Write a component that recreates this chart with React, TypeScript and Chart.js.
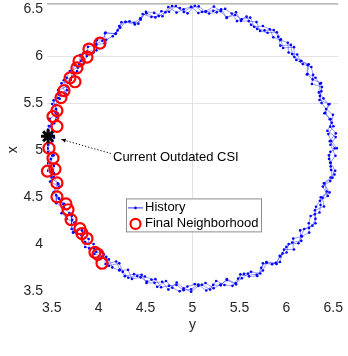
import React, { useEffect, useRef } from "react";
import { Chart, registerables } from "chart.js";

Chart.register(...registerables);

// History trace: horizontal-axis ("y") values, three laps around the circle
const histY = [6.515, 6.463, 6.527, 6.467, 6.472, 6.405, 6.45, 6.395, 6.346, 6.357,
  6.31, 6.226, 6.239, 6.151, 6.115, 6.024, 6.015, 5.935, 5.861, 5.824,
  5.75, 5.657, 5.615, 5.523, 5.455, 5.365, 5.305, 5.221, 5.141, 5.066,
  4.985, 4.908, 4.823, 4.75, 4.669, 4.605, 4.509, 4.444, 4.379, 4.286,
  4.22, 4.179, 4.074, 4.041, 3.968, 3.946, 3.841, 3.812, 3.78, 3.693,
  3.66, 3.666, 3.569, 3.585, 3.539, 3.565, 3.479, 3.494, 3.503, 3.447,
  3.455, 3.507, 3.452, 3.503, 3.498, 3.565, 3.52, 3.575, 3.624, 3.613,
  3.66, 3.744, 3.731, 3.819, 3.856, 3.946, 3.955, 4.035, 4.109, 4.146,
  4.22, 4.313, 4.355, 4.447, 4.515, 4.605, 4.665, 4.749, 4.829, 4.905,
  4.985, 5.062, 5.147, 5.22, 5.301, 5.365, 5.461, 5.526, 5.591, 5.684,
  5.75, 5.791, 5.896, 5.929, 6.002, 6.024, 6.129, 6.158, 6.19, 6.277,
  6.31, 6.304, 6.401, 6.385, 6.431, 6.405, 6.491, 6.476, 6.467, 6.523,
  6.469, 6.525, 6.437, 6.484, 6.496, 6.423, 6.375, 6.357, 6.379, 6.272,
  6.285, 6.266, 6.175, 6.106, 6.062, 6.048, 5.936, 5.913, 5.865, 5.768,
  5.689, 5.624, 5.576, 5.474, 5.418, 5.348, 5.258, 5.177, 5.101, 5.025,
  4.947, 4.865, 4.782, 4.712, 4.641, 4.563, 4.469, 4.424, 4.329, 4.243,
  4.202, 4.15, 4.081, 3.982, 3.977, 3.879, 3.803, 3.795, 3.77, 3.719,
  3.628, 3.663, 3.577, 3.52, 3.547, 3.551, 3.525, 3.454, 3.525, 3.461,
  3.458, 3.49, 3.523, 3.525, 3.483, 3.581, 3.548, 3.549, 3.632, 3.689,
  3.719, 3.712, 3.823, 3.826, 3.857, 3.953, 4.027, 4.081, 4.11, 4.22,
  4.258, 4.316, 4.411, 4.493, 4.563, 4.624, 4.718, 4.786, 4.863, 4.946,
  5.024, 5.101, 5.187, 5.252, 5.341, 5.426, 5.486, 5.549, 5.624, 5.722,
  5.75, 5.848, 5.931, 5.959, 6.0, 6.062, 6.159, 6.147, 6.241, 6.31,
  6.303, 6.316, 6.357, 6.441, 6.389, 6.467, 6.513, 6.472, 6.455, 6.469,
  6.54, 6.478, 6.447, 6.502, 6.462, 6.415, 6.46, 6.353, 6.373, 6.37,
  6.28, 6.218, 6.227, 6.159, 6.085, 6.081, 5.965, 5.941, 5.899, 5.799,
  5.72, 5.682, 5.599, 5.516, 5.464, 5.364, 5.301, 5.228, 5.142, 5.062,
  4.985, 4.906, 4.83, 4.742, 4.68, 4.592, 4.504, 4.449, 4.387, 4.288,
  4.23, 4.185, 4.068, 4.063, 3.975, 3.886, 3.874, 3.843, 3.744, 3.718,
  3.703, 3.604, 3.647, 3.566, 3.506, 3.541, 3.547, 3.469, 3.483, 3.507,
  3.452, 3.522, 3.482, 3.452, 3.522, 3.572, 3.525, 3.58, 3.633, 3.604,
  3.716, 3.71, 3.727, 3.823, 3.893, 3.9, 3.975, 4.054, 4.074, 4.187,
  4.225, 4.279, 4.377, 4.458, 4.51, 4.595, 4.677, 4.743, 4.832, 4.906,
  4.985, 5.063, 5.139, 5.225, 5.299, 5.368, 5.464, 5.51, 5.603, 5.691,
  5.732, 5.786, 5.887, 5.935, 5.975, 6.081, 6.073, 6.166, 6.243, 6.239,
  6.258, 6.353, 6.364, 6.366, 6.46, 6.4, 6.471, 6.52, 6.472, 6.453];
// History trace: vertical-axis ("x") values
const histX = [5.02, 5.096, 5.179, 5.25, 5.33, 5.393, 5.487, 5.55, 5.614, 5.706,
  5.77, 5.81, 5.914, 5.945, 6.017, 6.038, 6.142, 6.17, 6.201, 6.286,
  6.319, 6.312, 6.409, 6.392, 6.437, 6.411, 6.497, 6.482, 6.472, 6.528,
  6.52, 6.468, 6.532, 6.472, 6.477, 6.411, 6.456, 6.402, 6.354, 6.365,
  6.319, 6.236, 6.25, 6.162, 6.127, 6.038, 6.03, 5.951, 5.878, 5.842,
  5.77, 5.678, 5.638, 5.547, 5.48, 5.393, 5.334, 5.252, 5.173, 5.099,
  5.02, 4.944, 4.861, 4.79, 4.71, 4.647, 4.553, 4.49, 4.426, 4.335,
  4.27, 4.23, 4.127, 4.095, 4.023, 4.002, 3.898, 3.87, 3.839, 3.754,
  3.721, 3.728, 3.632, 3.648, 3.603, 3.629, 3.543, 3.558, 3.568, 3.512,
  3.52, 3.572, 3.508, 3.568, 3.563, 3.629, 3.584, 3.638, 3.686, 3.675,
  3.721, 3.804, 3.79, 3.878, 3.913, 4.002, 4.01, 4.089, 4.162, 4.198,
  4.27, 4.362, 4.402, 4.493, 4.56, 4.647, 4.706, 4.789, 4.867, 4.941,
  5.058, 5.139, 5.207, 5.292, 5.376, 5.437, 5.502, 5.577, 5.672, 5.704,
  5.801, 5.883, 5.915, 5.958, 6.021, 6.119, 6.111, 6.206, 6.276, 6.273,
  6.289, 6.333, 6.419, 6.372, 6.453, 6.502, 6.465, 6.452, 6.47, 6.534,
  6.454, 6.51, 6.531, 6.465, 6.425, 6.415, 6.448, 6.345, 6.369, 6.36,
  6.273, 6.211, 6.174, 6.172, 6.061, 6.049, 6.01, 5.915, 5.838, 5.78,
  5.743, 5.638, 5.592, 5.529, 5.437, 5.357, 5.285, 5.218, 5.133, 5.059,
  4.98, 4.905, 4.831, 4.755, 4.666, 4.613, 4.521, 4.437, 4.387, 4.331,
  4.26, 4.162, 4.147, 4.049, 3.971, 3.954, 3.922, 3.866, 3.772, 3.797,
  3.707, 3.644, 3.662, 3.658, 3.625, 3.547, 3.61, 3.538, 3.5, 3.551,
  3.576, 3.57, 3.518, 3.61, 3.567, 3.558, 3.635, 3.685, 3.707, 3.689,
  3.797, 3.788, 3.811, 3.903, 3.972, 4.019, 4.036, 4.147, 4.174, 4.223,
  4.319, 4.398, 4.463, 4.514, 4.613, 4.671, 4.742, 4.828, 4.907, 4.982,
  5.02, 5.097, 5.171, 5.255, 5.328, 5.396, 5.49, 5.534, 5.626, 5.713,
  5.752, 5.805, 5.905, 5.951, 5.99, 6.095, 6.086, 6.178, 6.254, 6.248,
  6.267, 6.361, 6.372, 6.373, 6.466, 6.406, 6.477, 6.526, 6.477, 6.458,
  6.525, 6.498, 6.462, 6.521, 6.423, 6.459, 6.47, 6.388, 6.336, 6.361,
  6.302, 6.24, 6.243, 6.135, 6.12, 6.098, 6.0, 5.926, 5.904, 5.826,
  5.745, 5.71, 5.603, 5.554, 5.491, 5.399, 5.319, 5.256, 5.175, 5.096,
  5.02, 4.945, 4.864, 4.781, 4.715, 4.64, 4.555, 4.482, 4.43, 4.33,
  4.303, 4.208, 4.124, 4.098, 4.056, 3.956, 3.92, 3.893, 3.79, 3.817,
  3.73, 3.661, 3.682, 3.676, 3.589, 3.59, 3.602, 3.518, 3.593, 3.532,
  3.495, 3.557, 3.588, 3.533, 3.573, 3.619, 3.574, 3.68, 3.659, 3.662,
  3.751, 3.812, 3.802, 3.87, 3.943, 3.945, 4.06, 4.083, 4.124, 4.223,
  4.3, 4.337, 4.418, 4.5, 4.551, 4.648, 4.71, 4.782, 4.866, 4.945];

// Final neighborhood points
const nbY = [4.014, 3.897, 3.876, 3.791, 3.769, 3.695, 3.748, 3.631, 3.599, 3.556,
  3.514, 3.556, 3.471, 3.514, 3.455, 3.535, 3.556, 3.556, 3.652, 3.674,
  3.706, 3.801, 3.823, 3.876, 3.961, 3.993, 4.036];
const nbX = [6.138, 6.075, 5.99, 5.948, 5.875, 5.769, 5.727, 5.632, 5.558, 5.421,
  5.358, 5.253, 5.021, 4.915, 4.778, 4.799, 4.652, 4.504, 4.43, 4.367,
  4.262, 4.167, 4.114, 4.061, 3.914, 3.893, 3.798];

// Current outdated CSI
const csiY = [3.461];
const csiX = [5.147];

const tickValues = [3.5, 4, 4.5, 5, 5.5, 6, 6.5];
const legendLabels = ["History", "Final Neighborhood"];
const annotationText = "Current Outdated CSI";
const xTitle = "y";
const yTitle = "x";

const FONT = "'Liberation Sans', Arial, sans-serif";

const overlayPlugin = {
  id: "overlay",
  afterDraw(chart: any) {
    const { ctx, chartArea, scales } = chart;
    const sx = scales.x;
    const sy = scales.y;
    ctx.save();
    // top border
    ctx.strokeStyle = "#8c8c8c";
    ctx.lineWidth = 1;
    ctx.beginPath();
    ctx.moveTo(chartArea.left, chartArea.top + 0.5);
    ctx.lineTo(chartArea.right, chartArea.top + 0.5);
    ctx.stroke();

    // annotation arrow
    const tipX = sx.getPixelForValue(3.6);
    const tipY = sy.getPixelForValue(5.115);
    const tailX = sx.getPixelForValue(4.13);
    const tailY = sy.getPixelForValue(4.965);
    ctx.strokeStyle = "#000";
    ctx.lineWidth = 1;
    ctx.setLineDash([1.2, 2]);
    ctx.beginPath();
    ctx.moveTo(tailX, tailY);
    ctx.lineTo(tipX, tipY);
    ctx.stroke();
    ctx.setLineDash([]);
    const ang = Math.atan2(tipY - tailY, tipX - tailX);
    const al = 5;
    ctx.fillStyle = "#000";
    ctx.beginPath();
    ctx.moveTo(tipX, tipY);
    ctx.lineTo(tipX - al * Math.cos(ang - 0.4), tipY - al * Math.sin(ang - 0.4));
    ctx.lineTo(tipX - al * Math.cos(ang + 0.4), tipY - al * Math.sin(ang + 0.4));
    ctx.closePath();
    ctx.fill();
    ctx.font = `13px ${FONT}`;
    ctx.textBaseline = "middle";
    ctx.textAlign = "left";
    ctx.fillText(annotationText, sx.getPixelForValue(4.153), sy.getPixelForValue(4.926));

    // legend box
    const bx = chartArea.left + 79;
    const by = chartArea.top + 195;
    const bw = 135;
    const bh = 33;
    ctx.fillStyle = "#fff";
    ctx.fillRect(bx, by, bw, bh);
    ctx.strokeStyle = "#8c8c8c";
    ctx.lineWidth = 1;
    ctx.strokeRect(bx + 0.5, by + 0.5, bw, bh);
    // history entry
    ctx.strokeStyle = "#0000ff";
    ctx.lineWidth = 0.8;
    ctx.beginPath();
    ctx.moveTo(bx + 2, by + 9.5);
    ctx.lineTo(bx + 17, by + 9.5);
    ctx.stroke();
    ctx.fillStyle = "#0000ff";
    ctx.beginPath();
    ctx.arc(bx + 9.5, by + 9.5, 1.3, 0, Math.PI * 2);
    ctx.fill();
    // neighborhood entry
    ctx.strokeStyle = "#ff0000";
    ctx.lineWidth = 2.2;
    ctx.beginPath();
    ctx.arc(bx + 9.5, by + 25.5, 5, 0, Math.PI * 2);
    ctx.stroke();
    ctx.fillStyle = "#000";
    ctx.font = `13px ${FONT}`;
    ctx.textAlign = "left";
    ctx.textBaseline = "middle";
    ctx.fillText(legendLabels[0], bx + 19, by + 9.5);
    ctx.fillText(legendLabels[1], bx + 19, by + 25.5);
    ctx.restore();
  },
};

export default function App() {
  const ref = useRef<HTMLCanvasElement | null>(null);
  useEffect(() => {
    document.body.style.margin = "0";
    const canvas = ref.current;
    if (!canvas) return;
    const history = histY.map((v, i) => ({ x: v, y: histX[i] }));
    const neigh = nbY.map((v, i) => ({ x: v, y: nbX[i] }));
    const csi = csiY.map((v, i) => ({ x: v, y: csiX[i] }));
    const gridY = (c: any) => (c.tick && (c.tick.value === 6 || c.tick.value === 5.5) ? "#e3e3e3" : "rgba(0,0,0,0)");
    const gridX = (c: any) => (c.tick && c.tick.value === 5 ? "#e3e3e3" : "rgba(0,0,0,0)");
    const fmt = (v: any) => String(Math.round(Number(v) * 10) / 10);
    const chart = new Chart(canvas, {
      type: "scatter",
      data: {
        datasets: [
          {
            label: legendLabels[0],
            data: history,
            showLine: true,
            borderColor: "#0000ff",
            borderWidth: 0.4,
            pointRadius: 1.3,
            pointBackgroundColor: "#0000ff",
            pointBorderWidth: 0,
            order: 3,
          },
          {
            label: legendLabels[1],
            data: neigh,
            showLine: false,
            pointStyle: "circle",
            pointRadius: 5.5,
            borderColor: "#ff0000",
            backgroundColor: "rgba(0,0,0,0)",
            pointBorderWidth: 2.2,
            borderWidth: 2.2,
            clip: false,
            order: 2,
          },
          {
            label: "CSI",
            data: csi,
            showLine: false,
            pointStyle: "star",
            pointRadius: 7,
            borderColor: "#000",
            pointBorderWidth: 3,
            borderWidth: 3,
            clip: false,
            order: 1,
          },
        ],
      },
      options: {
        animation: false,
        responsive: false,
        devicePixelRatio: 1,
        layout: { padding: { top: 10, right: 10, left: 0, bottom: 0 } },
        plugins: { legend: { display: false }, tooltip: { enabled: false } },
        scales: {
          x: {
            type: "linear",
            min: 3.45,
            max: 6.55,
            afterBuildTicks: (s: any) => {
              s.ticks = tickValues.map((v) => ({ value: v }));
            },
            afterFit: (s: any) => {
              s.height = 60;
            },
            border: { display: false },
            grid: { color: gridX, drawTicks: false, lineWidth: 1 },
            ticks: {
              includeBounds: false,
              padding: 4,
              color: "#262626",
              font: { family: FONT, size: 14 },
              callback: fmt,
              maxRotation: 0,
            },
            title: {
              display: true,
              text: xTitle,
              color: "#262626",
              font: { family: FONT, size: 14 },
              padding: { top: 0, bottom: 22 },
            },
          },
          y: {
            type: "linear",
            min: 3.45,
            max: 6.56,
            afterBuildTicks: (s: any) => {
              s.ticks = tickValues.map((v) => ({ value: v }));
            },
            afterFit: (s: any) => {
              s.width = 47;
            },
            border: { display: false },
            grid: { color: gridY, drawTicks: false, lineWidth: 1 },
            ticks: {
              includeBounds: false,
              padding: 4,
              color: "#262626",
              font: { family: FONT, size: 14 },
              callback: fmt,
            },
            title: {
              display: true,
              text: yTitle,
              color: "#262626",
              font: { family: FONT, size: 14 },
              padding: { top: 4.5, bottom: 0 },
            },
          },
        },
      },
      plugins: [overlayPlugin],
    } as any);
    return () => chart.destroy();
  }, []);
  return (
    <div style={{ position: "relative", width: 348, height: 356, overflow: "hidden", background: "#fff" }}>
      <canvas
        ref={ref}
        width={348}
        height={365}
        style={{ position: "absolute", left: 0, top: -9, width: 348, height: 365 }}
      />
    </div>
  );
}
